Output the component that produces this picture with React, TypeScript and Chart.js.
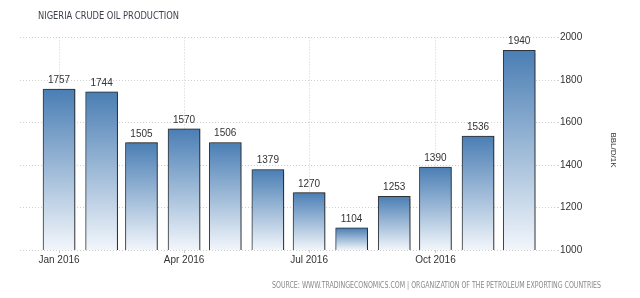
import React, { useEffect, useRef } from "react";
import { Chart, registerables } from "chart.js";

Chart.register(...registerables);

const TITLE = "NIGERIA CRUDE OIL PRODUCTION";
const SOURCE = "SOURCE: WWW.TRADINGECONOMICS.COM | ORGANIZATION OF THE PETROLEUM EXPORTING COUNTRIES";
const UNIT = "BBL/D/1K";

const MONTHS = [
  "2016-01", "2016-02", "2016-03", "2016-04", "2016-05", "2016-06",
  "2016-07", "2016-08", "2016-09", "2016-10", "2016-11", "2016-12",
];
const PRODUCTION = [1757, 1744, 1505, 1570, 1506, 1379, 1270, 1104, 1253, 1390, 1536, 1940];

const X_TICK_MONTHS = ["2016-01", "2016-04", "2016-07", "2016-10"];
const X_TICK_LABELS = ["Jan 2016", "Apr 2016", "Jul 2016", "Oct 2016"];

const Y_MIN = 1000;
const Y_MAX = 2000;
const Y_STEP = 200;

// axis range in days relative to the first month (padding around first/last bars)
const X_MIN_DAY = -28.4;
const X_MAX_DAY = 362.5;

const dayOf = (m: string) => {
  const [y, mo] = m.split("-").map(Number);
  return (Date.UTC(y, mo - 1, 1) - Date.UTC(2016, 0, 1)) / 86400000;
};

const FONT = '"Liberation Sans", Arial, sans-serif';
const NARROW = '"Liberation Sans Narrow", "DejaVu Sans Condensed", "Liberation Sans", sans-serif';

export default function App() {
  const ref = useRef<HTMLCanvasElement | null>(null);

  useEffect(() => {
    const canvas = ref.current;
    if (!canvas) return;

    const shadowPlugin = {
      id: "barShadow",
      beforeDatasetsDraw(chart: any) {
        const ctx = chart.ctx;
        ctx.save();
        ctx.shadowColor = "rgba(0,0,0,0.35)";
        ctx.shadowOffsetX = 2;
        ctx.shadowOffsetY = 0;
        ctx.shadowBlur = 1;
      },
      afterDatasetsDraw(chart: any) {
        chart.ctx.restore();
      },
    };

    const labelsPlugin = {
      id: "texts",
      afterDraw(chart: any) {
        const ctx = chart.ctx;
        ctx.save();
        const meta = chart.getDatasetMeta(0);
        ctx.font = `10px ${FONT}`;
        ctx.fillStyle = "#333";
        ctx.textAlign = "center";
        ctx.textBaseline = "alphabetic";
        meta.data.forEach((el: any, i: number) => {
          ctx.fillText(String(PRODUCTION[i]), el.x, el.y - 6);
        });
        ctx.textAlign = "left";
        ctx.textBaseline = "middle";
        ctx.font = `10px ${NARROW}`;
        ctx.fillStyle = "#3a3f4a";
        ctx.fillText(TITLE, 38, 16, 141);
        ctx.textAlign = "right";
        ctx.font = `8px ${NARROW}`;
        ctx.fillStyle = "#8a8a8a";
        ctx.fillText(SOURCE, 601, 286, 329);
        ctx.translate(613, 150);
        ctx.rotate(Math.PI / 2);
        ctx.textAlign = "center";
        ctx.font = `8px ${FONT}`;
        ctx.fillStyle = "#333";
        ctx.fillText(UNIT, 0, 0);
        ctx.restore();
      },
    };

    const chart = new Chart(canvas, {
      type: "bar",
      data: {
        datasets: [
          {
            data: MONTHS.map((m, i) => ({ x: dayOf(m), y: PRODUCTION[i] })),
            barThickness: 32,
            borderColor: "#2e3136",
            borderWidth: 1,
            borderSkipped: false,
            backgroundColor: (c: any) => {
              const ch = c.chart;
              const ys = ch.scales.y;
              if (!ys || !ch.chartArea) return "#4a7eb4";
              const v = PRODUCTION[c.dataIndex];
              const top = ys.getPixelForValue(v);
              const bottom = ys.getPixelForValue(Y_MIN);
              const g = ch.ctx.createLinearGradient(0, top, 0, bottom);
              g.addColorStop(0, "#4a7eb4");
              g.addColorStop(1, "#f2f6fb");
              return g;
            },
          },
        ],
      },
      options: {
        animation: false,
        responsive: false,
        maintainAspectRatio: false,
        layout: { padding: { left: 20, top: 37.5, right: 0, bottom: 0 } },
        plugins: {
          legend: { display: false },
          tooltip: { enabled: false },
          title: { display: false },
        },
        scales: {
          x: {
            type: "linear",
            offset: false,
            min: X_MIN_DAY,
            max: X_MAX_DAY,
            afterBuildTicks: (s: any) => {
              s.ticks = X_TICK_MONTHS.map((m) => ({ value: dayOf(m) }));
            },
            afterFit: (s: any) => {
              s.height = 48;
            },
            ticks: {
              autoSkip: false,
              maxRotation: 0,
              padding: 1,
              color: "#333",
              font: { family: FONT, size: 10 },
              callback: (v: any) => {
                const idx = X_TICK_MONTHS.findIndex((m) => dayOf(m) === v);
                return idx >= 0 ? X_TICK_LABELS[idx] : "";
              },
            },
            grid: {
              offset: false,
              color: "#cfcfcf",
              tickLength: 3,
            },
            border: { display: false, dash: [1, 2] },
          },
          y: {
            position: "right",
            min: Y_MIN,
            max: Y_MAX,
            afterFit: (s: any) => {
              s.width = 83;
            },
            ticks: {
              stepSize: Y_STEP,
              padding: 1,
              color: "#333",
              font: { family: FONT, size: 10 },
              callback: (v: any) => String(v),
            },
            grid: {
              color: "#cfcfcf",
              tickLength: 2,
            },
            border: { display: false, dash: [1, 2] },
          },
        },
      } as any,
      plugins: [shadowPlugin, labelsPlugin],
    });

    return () => chart.destroy();
  }, []);

  return (
    <div style={{ position: "absolute", left: 0, top: 0, width: 640, height: 298, background: "#fff" }}>
      <canvas ref={ref} width={640} height={298} style={{ display: "block", width: 640, height: 298 }} />
    </div>
  );
}
